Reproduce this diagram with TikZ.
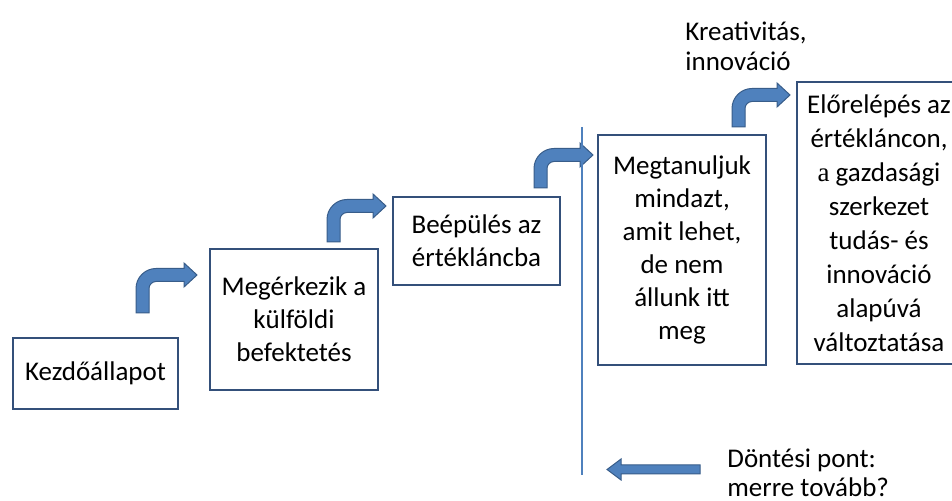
\documentclass[tikz,border=0pt]{standalone}
\usepackage{fontspec}
\setmainfont{Carlito}
\newfontfamily\serifa{Liberation Serif}
\definecolor{arrowfill}{HTML}{4F81BD}
\definecolor{arrowline}{HTML}{385D8A}
\definecolor{boxline}{HTML}{34507A}
\tikzset{
  stepbox/.style={draw=boxline, line width=1pt, fill=white, align=center, inner sep=0pt,
    font=\fontsize{13.5}{16.5}\selectfont},
  label/.style={align=left, inner sep=0pt, font=\fontsize{13.5}{14.8}\selectfont},
  arrowbody/.style={fill=arrowfill, draw=arrowline, line width=0.5pt},
}
% bent block arrow: #1 = left x of shaft, #2 = bottom y of shaft, #3 = centre y of head, #4 = tip x
\newcommand{\bentarrow}[4]{%
  \filldraw[arrowbody] (#1,#2) -- (#1,{#3+13.5})
    .. controls (#1,{#3+2.5}) and ({#1+9},{#3-6.5}) .. ({#1+20},{#3-6.5})
    -- ({#4-13},{#3-6.5}) -- ({#4-13},{#3-12}) -- (#4,#3) -- ({#4-13},{#3+12})
    -- ({#4-13},{#3+6.5}) -- ({#1+20},{#3+6.5})
    .. controls ({#1+16.5},{#3+6.5}) and ({#1+13},{#3+9.5}) .. ({#1+13},{#3+13.5})
    -- ({#1+13},#2) -- cycle;}
\begin{document}
\begin{tikzpicture}[x=0.5pt,y=-0.5pt]
\useasboundingbox (0,0) rectangle (952,501);
\clip (0,0) rectangle (952,501);
\fill[white] (0,0) rectangle (952,501);

\node[stepbox, minimum width=82.5pt, minimum height=35.5pt] (b1) at (95.5,373.5) {Kezdőállapot};
\node[stepbox, minimum width=84pt, minimum height=70.5pt] (b2) at (294,319.5) {Megérkezik a\\külföldi\\befektetés};
\node[stepbox, minimum width=83.5pt, minimum height=44pt] (b3) at (476.5,241) {Beépülés az\\értékláncba};
\node[stepbox, minimum width=84pt, minimum height=115pt] (b4) at (682,250) {Megtanuljuk\\mindazt,\\amit lehet,\\de nem\\állunk itt\\meg};
\node[stepbox, minimum width=82pt, minimum height=141pt, font=\fontsize{13.5}{17}\selectfont] (b5) at (879,223) {Előrelépés az\\értékláncon,\\{\serifa a} gazdasági\\szerkezet\\tudás- és\\innováció\\alapúvá\\változtatása};

\bentarrow{136}{313}{275}{197}
\bentarrow{327}{242}{206}{386}
\bentarrow{534}{188}{155}{593}
\bentarrow{732}{127}{95}{790}

\coordinate (vtop) at (582,127);
\coordinate (vbot) at (582,475);
\draw[arrowfill, line width=1pt] (vtop) -- (vbot);

\filldraw[arrowbody] (700,465) -- (621,465) -- (621,459) -- (607,469.5) -- (621,480) -- (621,474) -- (700,474) -- cycle;

\node[label, anchor=west] (kre) at (685,46) {Kreativitás,\\innováció};
\node[label, anchor=west] (dont) at (727,473) {Döntési pont:\\merre tovább?};
\end{tikzpicture}
\end{document}
